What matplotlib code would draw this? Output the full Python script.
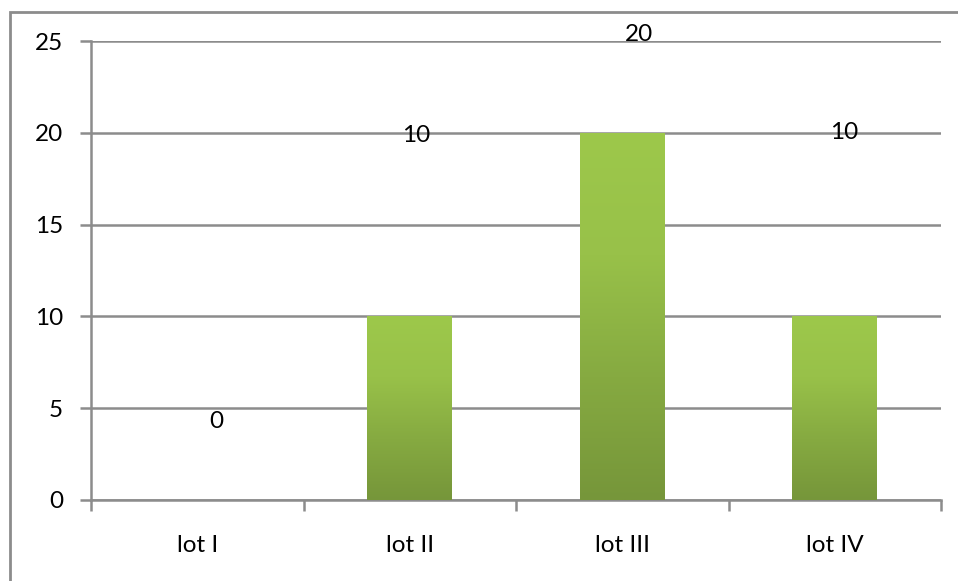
import numpy as np
import matplotlib.pyplot as plt
from matplotlib.colors import LinearSegmentedColormap
from matplotlib.patches import Rectangle

categories = ["lot I", "lot II", "lot III", "lot IV"]
values = [0, 10, 20, 10]
# les étiquettes sont décalées dans l'original
label_dx = [0.088, 0.03, 0.08, 0.045]
label_y = [4.3, 19.85, 25.38, 20.0]

plt.rcParams['font.family'] = ['Lato', 'DejaVu Sans']
grey = '#8c8c8c'

fig = plt.figure(figsize=(9.58, 5.81), dpi=100)
ax = fig.add_axes([91 / 958, 1 - 500 / 581, 850 / 958, 459 / 581])

# cadre extérieur
fig.patches.append(Rectangle((10 / 958, -0.1), 1.2, 1 - 12 / 581 + 0.1,
                             transform=fig.transFigure, fill=False,
                             edgecolor=grey, linewidth=2, zorder=0))

x = np.arange(len(categories))
width = 0.4
bars = ax.bar(x, values, width=width, color='none', edgecolor='none', zorder=3)

cmap = LinearSegmentedColormap.from_list("vert", ['#76963a', '#86aa41', '#98c149', '#9dc84b'])
grad = np.linspace(0, 1, 256).reshape(-1, 1)
for b, v in zip(bars, values):
    if v <= 0:
        continue
    x0 = b.get_x()
    im = ax.imshow(grad, cmap=cmap, origin='lower', aspect='auto',
                   extent=(x0, x0 + width, 0, v), zorder=3)
    im.set_clip_path(b)

for xi, dx, ly, v in zip(x, label_dx, label_y, values):
    ax.text(xi + dx, ly, str(v), ha='center', va='center', fontsize=17.5, zorder=5)

ax.set_xlim(-0.5, len(categories) - 0.5)
ax.set_ylim(0, 25)
ax.set_yticks([0, 5, 10, 15, 20, 25])
ax.yaxis.grid(True, color=grey, linewidth=1.8, zorder=1)
ax.set_axisbelow(True)

ax.set_xticks(x)
ax.set_xticklabels(categories, fontsize=17.5)
ax.set_xticks(np.arange(-0.5, len(categories)), minor=True)
ax.tick_params(axis='x', which='major', length=0, pad=25)
ax.tick_params(axis='x', which='minor', length=8, width=1.8, color=grey)
ax.tick_params(axis='y', length=8, width=1.8, color=grey, labelsize=17.5, pad=12)

for s in ['top', 'right']:
    ax.spines[s].set_visible(False)
for s in ['left', 'bottom']:
    ax.spines[s].set_color(grey)
    ax.spines[s].set_linewidth(1.8)

plt.savefig("out.png", dpi=100)
